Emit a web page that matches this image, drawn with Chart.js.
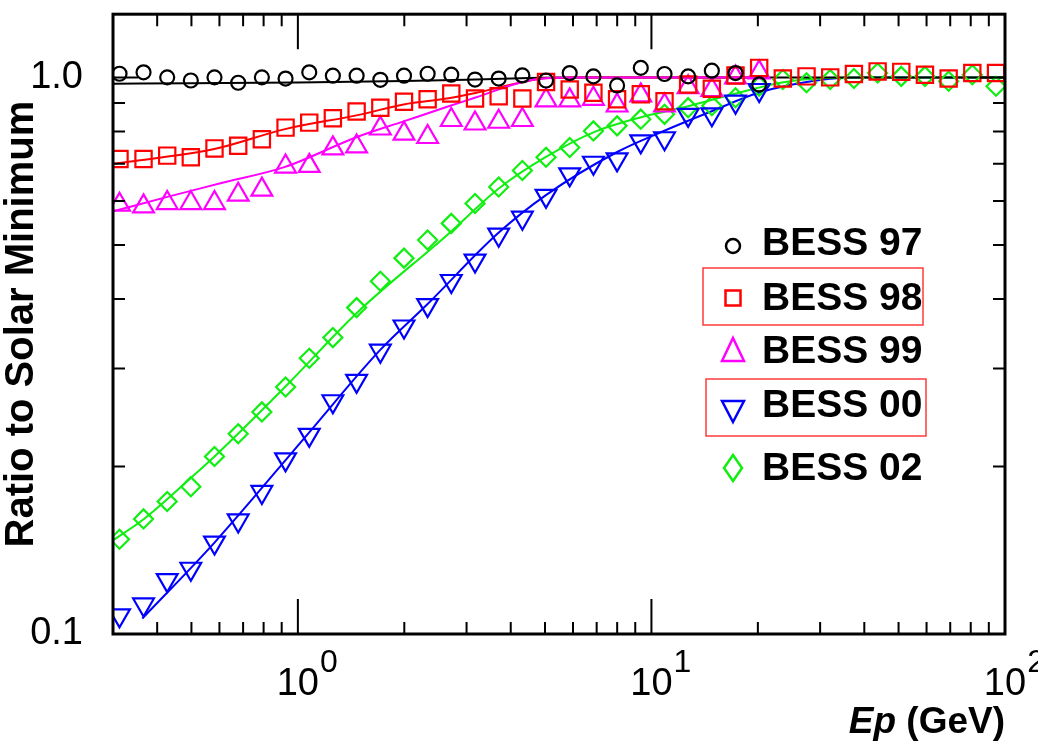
<!DOCTYPE html>
<html>
<head>
<meta charset="utf-8">
<script src="https://cdn.jsdelivr.net/npm/chart.js@4.4.0/dist/chart.umd.min.js"></script>
<style>
  html, body { margin: 0; padding: 0; background: #fff; }
  canvas { display: block; }
</style>
</head>
<body>
<canvas id="chart" width="1038" height="747"></canvas>
<script>
// Energy bins (GeV), shared by all the BESS flights
const energyBins = [0.313, 0.366, 0.427, 0.498, 0.581, 0.678, 0.791, 0.923, 1.077, 1.256,
  1.466, 1.711, 1.996, 2.328, 2.716, 3.170, 3.698, 4.315, 5.034, 5.873,
  6.853, 7.996, 9.330, 10.89, 12.70, 14.82, 17.29, 20.17, 23.53, 27.46,
  32.04, 37.38, 43.62, 50.89, 59.37, 69.28, 80.83, 94.32];

// Ratio to solar minimum, one list per flight
const bess97 = [1.016, 1.022, 1.001, 0.988, 1.001, 0.979, 1.001, 0.996, 1.022, 1.008,
  1.008, 0.991, 1.008, 1.016, 1.012, 0.992, 0.996, 1.009, 0.988, 1.019,
  1.005, 0.968, 1.041, 1.015, 1.005, 1.029, 1.019, 0.972];
const bess98 = [0.714, 0.714, 0.724, 0.719, 0.746, 0.754, 0.775, 0.813, 0.830, 0.845,
  0.869, 0.883, 0.905, 0.914, 0.936, 0.917, 0.926, 0.917, 0.982, 0.952,
  0.939, 0.914, 0.933, 0.907, 0.972, 0.955, 1.009, 1.041, 0.996, 1.005,
  1.001, 1.015, 1.026, 1.024, 1.012, 0.996, 1.019, 1.019];
const bess99 = [0.591, 0.587, 0.595, 0.595, 0.595, 0.616, 0.629, 0.692, 0.694, 0.746,
  0.752, 0.810, 0.793, 0.782, 0.839, 0.827, 0.833, 0.839, 0.910, 0.910,
  0.916, 0.891, 0.929, 0.891, 0.961, 0.950, 1.001, 1.022];
const bess00 = [0.108, 0.113, 0.125, 0.131, 0.146, 0.160, 0.180, 0.206, 0.228, 0.262,
  0.285, 0.323, 0.357, 0.390, 0.431, 0.469, 0.522, 0.560, 0.613, 0.670,
  0.703, 0.713, 0.768, 0.778, 0.857, 0.859, 0.905, 0.950];
const bess02 = [0.148, 0.161, 0.173, 0.184, 0.2085, 0.229, 0.2507, 0.278, 0.313, 0.341,
  0.386, 0.4305, 0.4737, 0.5107, 0.547, 0.594, 0.636, 0.681, 0.719, 0.749,
  0.802, 0.819, 0.842, 0.859, 0.883, 0.890, 0.920, 0.965, 0.992, 0.979,
  0.992, 0.996, 1.019, 1.005, 1.005, 0.985, 1.012, 0.965];

// Fitted modulation curves
const fit97X = [0.3, 0.5, 1, 2, 3, 4.5, 6, 100];
const fit97Y = [0.975, 0.977, 0.980, 0.986, 0.991, 0.998, 1.0, 1.0];
const fit98X = [0.3, 0.58, 0.92, 1.5, 1.99, 2.67, 3.18, 4.27, 5, 6, 21];
const fit98Y = [0.700, 0.744, 0.808, 0.858, 0.895, 0.918, 0.938, 0.980, 0.997, 1.0, 1.0];
const fit99X = [0.3, 0.43, 0.6, 0.92, 1.47, 2, 2.67, 3.18, 4.27, 5, 6, 21];
const fit99Y = [0.575, 0.611, 0.645, 0.691, 0.782, 0.835, 0.888, 0.921, 0.980, 0.997, 1.0, 1.0];
const fit00X = [0.363, 0.581, 1.068, 1.71, 2.32, 3.68, 5.03, 8.0, 10.8, 14.8, 20.2, 30, 40, 100];
const fit00Y = [0.1066, 0.146, 0.229, 0.324, 0.391, 0.525, 0.615, 0.735, 0.801, 0.870, 0.940, 0.990, 1.0, 1.0];
const fit02X = [0.298, 0.367, 0.499, 0.581, 0.93, 1.47, 2.65, 3.7, 5.03, 6.88, 9.3, 12.7, 17.2, 23.4, 30, 40, 100];
const fit02Y = [0.147, 0.161, 0.191, 0.2085, 0.280, 0.378, 0.522, 0.632, 0.720, 0.798, 0.848, 0.888, 0.935, 0.980, 0.997, 1.0, 1.0];

// Axis ticks and labels
const xMajorTicks = [1, 10, 100];
const xTickExps = ['0', '1', '2'];
const xMinorTicks = [0.4, 0.5, 0.6, 0.7, 0.8, 0.9, 2, 3, 4, 5, 6, 7, 8, 9, 20, 30, 40, 50, 60, 70, 80, 90];
const yTickValues = [0.1, 1.0];
const yMinorTicks = [0.2, 0.3, 0.4, 0.5, 0.6, 0.7, 0.8, 0.9];

const seriesNames = ['BESS 97', 'BESS 98', 'BESS 99', 'BESS 00', 'BESS 02'];
const seriesColors = ['#000000', '#ff0000', '#ff00ff', '#0000ff', '#11ee11'];

const FONT = '"Liberation Sans", Arial, Helvetica, sans-serif';

function toPoints(xs, ys) {
    return ys.map((v, i) => ({ x: xs[i], y: v }));
}

function markerSet(idx, values, style, radius, rotation) {
    return {
        label: seriesNames[idx],
        data: toPoints(energyBins, values),
        showLine: false,
        pointStyle: style,
        pointRadius: radius,
        pointRotation: rotation || 0,
        pointBorderWidth: 2.2,
        pointBorderColor: seriesColors[idx],
        pointBackgroundColor: 'rgba(0,0,0,0)',
        order: idx
    };
}

function fitSet(idx, xs, ys, order) {
    return {
        label: seriesNames[idx] + ' fit',
        data: toPoints(xs, ys),
        showLine: true,
        pointRadius: 0,
        borderColor: seriesColors[idx],
        borderWidth: 2,
        cubicInterpolationMode: 'monotone',
        fill: false,
        order: order
    };
}

// simple marker drawer for the legend
function drawMarker(ctx, kind, x, y, color) {
    ctx.save();
    ctx.strokeStyle = color;
    ctx.lineWidth = 2.5;
    ctx.beginPath();
    if (kind === 'circle') {
        ctx.arc(x, y, 7, 0, Math.PI * 2);
    } else if (kind === 'square') {
        ctx.rect(x - 7.5, y - 7.5, 15, 15);
    } else if (kind === 'up') {
        ctx.moveTo(x, y - 13); ctx.lineTo(x + 11, y + 10); ctx.lineTo(x - 11, y + 10); ctx.closePath();
    } else if (kind === 'down') {
        ctx.moveTo(x, y + 11); ctx.lineTo(x + 11, y - 10); ctx.lineTo(x - 11, y - 10); ctx.closePath();
    } else if (kind === 'diamond') {
        ctx.moveTo(x, y - 13); ctx.lineTo(x + 9, y); ctx.lineTo(x, y + 13); ctx.lineTo(x - 9, y); ctx.closePath();
    }
    ctx.stroke();
    ctx.restore();
}

const framePlugin = {
    id: 'framePlugin',
    afterDraw(chart) {
        const { ctx, chartArea: a, scales: { x, y } } = chart;
        ctx.save();
        ctx.strokeStyle = '#000';
        ctx.lineWidth = 2;
        ctx.beginPath();
        xMinorTicks.forEach(v => {
            const px = x.getPixelForValue(v);
            ctx.moveTo(px, a.bottom); ctx.lineTo(px, a.bottom - 12);
            ctx.moveTo(px, a.top); ctx.lineTo(px, a.top + 12);
        });
        xMajorTicks.forEach(v => {
            const px = x.getPixelForValue(v);
            ctx.moveTo(px, a.bottom); ctx.lineTo(px, a.bottom - 35);
            ctx.moveTo(px, a.top); ctx.lineTo(px, a.top + 35);
        });
        yMinorTicks.forEach(v => {
            const py = y.getPixelForValue(v);
            ctx.moveTo(a.left, py); ctx.lineTo(a.left + 12, py);
            ctx.moveTo(a.right, py); ctx.lineTo(a.right - 12, py);
        });
        yTickValues.forEach(v => {
            const py = y.getPixelForValue(v);
            ctx.moveTo(a.left, py); ctx.lineTo(a.left + 25, py);
            ctx.moveTo(a.right, py); ctx.lineTo(a.right - 25, py);
        });
        ctx.stroke();
        ctx.lineWidth = 3;
        ctx.strokeRect(a.left, a.top, a.right - a.left, a.bottom - a.top);

        // x tick labels, 10 with exponent
        ctx.fillStyle = '#000';
        ctx.textBaseline = 'alphabetic';
        xMajorTicks.forEach((v, i) => {
            const px = x.getPixelForValue(v);
            ctx.font = '38px ' + FONT;
            ctx.textAlign = 'center';
            ctx.fillText('10', px, 695);
            const w = ctx.measureText('10').width;
            ctx.font = '32px ' + FONT;
            ctx.textAlign = 'left';
            ctx.fillText(xTickExps[i], px + w / 2 + 1, 672);
        });

        // x title: Ep (GeV)
        ctx.textAlign = 'left';
        ctx.font = 'bold 37px ' + FONT;
        const rest = ' (GeV)';
        const wRest = ctx.measureText(rest).width;
        ctx.font = 'italic bold 37px ' + FONT;
        const wEp = ctx.measureText('Ep').width;
        const startX = a.right - wRest - wEp;
        ctx.fillText('Ep', startX, 733);
        ctx.font = 'bold 37px ' + FONT;
        ctx.fillText(rest, startX + wEp, 733);

        // legend
        const kinds = ['circle', 'square', 'up', 'down', 'diamond'];
        const markY = [246, 298, 351, 411, 468];
        const textY = [255, 310, 363, 417, 480];
        ctx.font = 'bold 39px ' + FONT;
        seriesNames.forEach((name, i) => {
            drawMarker(ctx, kinds[i], 733, markY[i], seriesColors[i]);
            ctx.fillStyle = '#000';
            ctx.fillText(name, 762, textY[i]);
        });

        // highlight boxes around BESS 98 and BESS 00
        ctx.strokeStyle = '#ff3b3b';
        ctx.lineWidth = 1.5;
        ctx.strokeRect(703, 268, 220, 57);
        ctx.strokeRect(706, 379, 220, 57);
        ctx.restore();
    }
};

new Chart(document.getElementById('chart').getContext('2d'), {
    type: 'scatter',
    data: {
        datasets: [
            markerSet(0, bess97, 'circle', 7),
            markerSet(1, bess98, 'rect', 11.5),
            markerSet(2, bess99, 'triangle', 12),
            markerSet(3, bess00, 'triangle', 12, 180),
            markerSet(4, bess02, 'rectRot', 9.5),
            fitSet(2, fit99X, fit99Y, 10),
            fitSet(1, fit98X, fit98Y, 11),
            fitSet(0, fit97X, fit97Y, 12),
            fitSet(4, fit02X, fit02Y, 13),
            fitSet(3, fit00X, fit00Y, 14)
        ]
    },
    options: {
        responsive: false,
        animation: false,
        events: [],
        layout: { padding: { left: 0, top: 8, right: 33, bottom: 0 } },
        plugins: { legend: { display: false }, tooltip: { enabled: false } },
        scales: {
            x: {
                type: 'logarithmic',
                min: 0.3,
                max: 100,
                grid: { display: false, drawTicks: false },
                border: { display: false },
                ticks: { display: false },
                afterFit: s => { s.height = 113; s.paddingLeft = 0; s.paddingRight = 0; }
            },
            y: {
                type: 'logarithmic',
                min: 0.1,
                max: 1.3,
                grid: { display: false, drawTicks: false },
                border: { display: false },
                afterBuildTicks: s => { s.ticks = yTickValues.map(v => ({ value: v })); },
                ticks: {
                    padding: 30,
                    color: '#000',
                    font: { family: FONT, size: 38 },
                    callback: v => Number(v).toFixed(1)
                },
                title: {
                    display: true,
                    text: 'Ratio to Solar Minimum',
                    color: '#000',
                    padding: 0,
                    font: { family: FONT, size: 40, weight: 'bold', lineHeight: 1.1 }
                },
                afterFit: s => { s.width = 113; s.paddingTop = 0; s.paddingBottom = 0; }
            }
        }
    },
    plugins: [framePlugin]
});
</script>
</body>
</html>
